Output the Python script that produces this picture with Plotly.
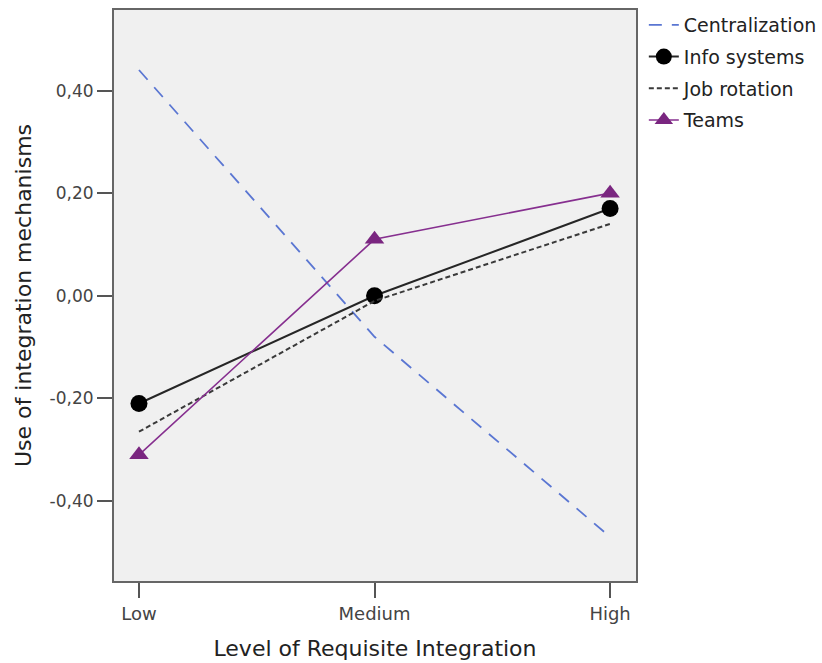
import plotly.graph_objects as go

categories = ["Low", "Medium", "High"]
centralization = [0.44, -0.08, -0.47]
info_systems = [-0.21, 0.00, 0.17]
job_rotation = [-0.265, -0.01, 0.14]
teams = [-0.31, 0.11, 0.20]
y_ticks = [-0.40, -0.20, 0.00, 0.20, 0.40]
y_tick_labels = ["-0,40", "-0,20", "0,00", "0,20", "0,40"]

xpos = list(range(len(categories)))

fig = go.Figure()
fig.add_trace(go.Scatter(x=xpos, y=centralization, name="Centralization", mode="lines",
                         legendgroup="c",
                         line=dict(color="#5a76d2", width=1.8, dash="13px,10px")))
fig.add_trace(go.Scatter(x=xpos, y=info_systems, name="Info systems", mode="lines+markers",
                         legendgroup="i",
                         line=dict(color="#262626", width=2),
                         marker=dict(symbol="circle", size=17, color="black")))
fig.add_trace(go.Scatter(x=xpos, y=job_rotation, name="Job rotation", mode="lines",
                         legendgroup="j",
                         line=dict(color="#3a3a3a", width=2, dash="5px,3px")))
fig.add_trace(go.Scatter(x=xpos, y=teams, name="Teams", mode="lines+markers",
                         legendgroup="t",
                         line=dict(color="#862f8f", width=1.6),
                         marker=dict(symbol="triangle-up", size=17, color="#7a2680")))

font_family = "DejaVu Sans, Verdana, sans-serif"
fig.update_layout(
    width=822, height=663,
    margin=dict(l=114, r=186, t=10, b=82, autoexpand=False),
    paper_bgcolor="white", plot_bgcolor="#f0f0f0",
    font=dict(family=font_family, color="#333333"),
    showlegend=True,
    legend=dict(x=1.015, y=1.007, xanchor="left", yanchor="top",
                font=dict(size=19, color="#222222"), bgcolor="rgba(0,0,0,0)",
                tracegroupgap=4, itemwidth=30),
    xaxis=dict(range=[-0.106, 2.11], tickvals=xpos, ticktext=categories,
               showgrid=False, zeroline=False, showline=True, linecolor="#666666", linewidth=2,
               mirror=True, ticks="outside", ticklen=15, tickwidth=2, tickcolor="#555555",
               tickfont=dict(size=18, color="#444444"), automargin=False,
               title=dict(text="Level of Requisite Integration", font=dict(size=22, color="#222222"),
                          standoff=18)),
    yaxis=dict(range=[-0.556, 0.557], tickvals=y_ticks, ticktext=y_tick_labels,
               showgrid=False, zeroline=False, showline=True, linecolor="#666666", linewidth=2,
               mirror=True, ticks="outside", ticklen=15, tickwidth=2, tickcolor="#555555",
               tickfont=dict(size=17, color="#444444"), automargin=False,
               title=dict(text="Use of integration mechanisms", font=dict(size=22, color="#222222"),
                          standoff=12)),
)

fig.write_html("out.html", config={"displayModeBar": False},
               post_script="document.body.style.margin='0';")
